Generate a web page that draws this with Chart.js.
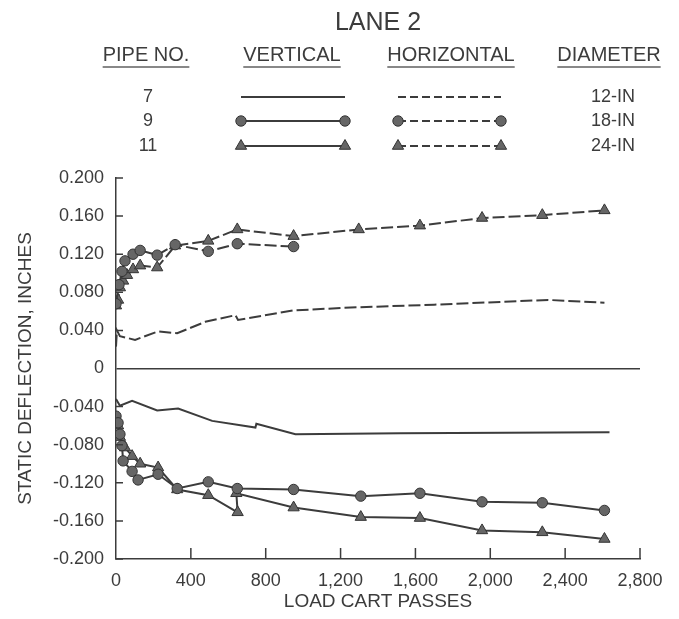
<!DOCTYPE html>
<html>
<head>
<meta charset="utf-8">
<script src="https://cdn.jsdelivr.net/npm/chart.js@4.4.1/dist/chart.umd.min.js"></script>
<style>
  html, body { margin: 0; padding: 0; background: #fff; }
  #wrap { position: relative; width: 679px; height: 619px; }
</style>
</head>
<body>
<div id="wrap"><canvas id="chart" width="679" height="619"></canvas></div>
<script>
// tick values
const yTicks = [-0.2, -0.16, -0.12, -0.08, -0.04, 0, 0.04, 0.08, 0.12, 0.16, 0.2];
const xTicks = [0, 400, 800, 1200, 1600, 2000, 2400, 2800];

// pipe 7 (12-in), no markers
const p7HorizPasses = [0, 5, 21, 102, 225, 327, 477, 638, 652, 949, 1254, 1700, 2310, 2610];
const p7HorizValues = [0.023, 0.040, 0.034, 0.030, 0.039, 0.037, 0.049, 0.056, 0.051, 0.061, 0.064, 0.067, 0.072, 0.069];
const p7VertPasses = [0, 21, 86, 220, 332, 514, 745, 750, 959, 1522, 2637];
const p7VertValues = [-0.032, -0.039, -0.034, -0.044, -0.042, -0.055, -0.062, -0.058, -0.069, -0.068, -0.067];

// pipe 9 (18-in), circles
const p9HorizPasses = [0, 16, 32, 48, 91, 129, 220, 316, 493, 648, 949];
const p9HorizValues = [0.068, 0.088, 0.102, 0.113, 0.120, 0.124, 0.119, 0.130, 0.123, 0.131, 0.128];
const p9VertPasses = [0, 11, 21, 32, 38, 86, 118, 225, 327, 493, 648, 949, 1308, 1624, 1956, 2278, 2610];
const p9VertValues = [-0.050, -0.057, -0.069, -0.081, -0.097, -0.108, -0.117, -0.111, -0.126, -0.119, -0.126, -0.127, -0.134, -0.131, -0.140, -0.141, -0.149];

// pipe 11 (24-in), triangles
const p11HorizPasses = [0, 11, 21, 38, 59, 91, 129, 220, 316, 493, 648, 949, 1297, 1624, 1956, 2278, 2610];
const p11HorizValues = [0.066, 0.072, 0.085, 0.092, 0.098, 0.104, 0.108, 0.106, 0.129, 0.134, 0.146, 0.139, 0.146, 0.150, 0.158, 0.161, 0.166];
const p11VertPasses = [0, 11, 21, 48, 86, 129, 225, 327, 493, 650, 643, 949, 1308, 1624, 1956, 2278, 2610];
const p11VertValues = [-0.052, -0.060, -0.072, -0.083, -0.092, -0.100, -0.104, -0.127, -0.133, -0.151, -0.131, -0.146, -0.156, -0.157, -0.170, -0.172, -0.179];

const pipeNos = ['7', '9', '11'];
const diameters = ['12-IN', '18-IN', '24-IN'];

const INK = '#3c3c3c';
const FONT = '"Liberation Sans", Arial, sans-serif';

function pts(xs, ys) {
  return xs.map((x, i) => ({ x: x, y: ys[i] }));
}

function series(label, xs, ys, marker, dashed) {
  return {
    label: label,
    data: pts(xs, ys),
    showLine: true,
    borderColor: INK,
    borderWidth: 2,
    borderDash: dashed ? [12, 4] : [],
    pointStyle: marker || 'circle',
    pointRadius: marker ? (marker === 'triangle' ? 6.5 : 5.2) : 0,
    pointBackgroundColor: '#666',
    pointBorderColor: '#333',
    pointBorderWidth: 1,
    tension: 0
  };
}

function drawMarker(ctx, type, x, y) {
  ctx.save();
  ctx.fillStyle = '#666';
  ctx.strokeStyle = '#333';
  ctx.lineWidth = 1;
  ctx.setLineDash([]);
  ctx.beginPath();
  if (type === 'circle') {
    ctx.arc(x, y, 5.2, 0, Math.PI * 2);
  } else {
    const r = 6.5;
    ctx.moveTo(x, y - r);
    ctx.lineTo(x + r * 0.866, y + r * 0.5);
    ctx.lineTo(x - r * 0.866, y + r * 0.5);
    ctx.closePath();
  }
  ctx.fill();
  ctx.stroke();
  ctx.restore();
}

// header block: title, column heads and line samples
const headerPlugin = {
  id: 'header',
  afterDraw(chart) {
    const ctx = chart.ctx;
    ctx.save();
    ctx.fillStyle = INK;
    ctx.textAlign = 'center';
    ctx.textBaseline = 'middle';
    ctx.font = '25px ' + FONT;
    ctx.fillText('LANE 2', 378, 23);

    const heads = [['PIPE NO.', 146], ['VERTICAL', 292], ['HORIZONTAL', 451], ['DIAMETER', 609]];
    ctx.font = '20px ' + FONT;
    heads.forEach(h => {
      ctx.fillText(h[0], h[1], 55);
      const w = ctx.measureText(h[0]).width;
      ctx.strokeStyle = '#888';
      ctx.lineWidth = 2;
      ctx.beginPath();
      ctx.moveTo(h[1] - w / 2, 67);
      ctx.lineTo(h[1] + w / 2, 67);
      ctx.stroke();
    });

    const rows = [97, 121, 146];
    const markers = [null, 'circle', 'triangle'];
    ctx.font = '18px ' + FONT;
    rows.forEach((y, i) => {
      ctx.fillStyle = INK;
      ctx.fillText(pipeNos[i], 148, y);
      ctx.fillText(diameters[i], 613, y);
      ctx.strokeStyle = INK;
      ctx.lineWidth = 2;
      ctx.setLineDash([]);
      ctx.beginPath();
      ctx.moveTo(241, y);
      ctx.lineTo(345, y);
      ctx.stroke();
      ctx.setLineDash([8, 4]);
      ctx.beginPath();
      ctx.moveTo(398, y);
      ctx.lineTo(501, y);
      ctx.stroke();
      ctx.setLineDash([]);
      if (markers[i]) {
        drawMarker(ctx, markers[i], 241, y);
        drawMarker(ctx, markers[i], 345, y);
        drawMarker(ctx, markers[i], 398, y);
        drawMarker(ctx, markers[i], 501, y);
      }
    });
    ctx.restore();
  }
};

// tick marks pointing into the plot
const innerTicks = {
  id: 'innerTicks',
  afterDatasetsDraw(chart) {
    const ctx = chart.ctx;
    const xs = chart.scales.x, ys = chart.scales.y;
    const a = chart.chartArea;
    ctx.save();
    ctx.strokeStyle = INK;
    ctx.lineWidth = 1.5;
    ctx.beginPath();
    ys.ticks.forEach(t => {
      if (Math.abs(t.value) < 1e-9) return;
      const py = ys.getPixelForValue(t.value);
      ctx.moveTo(a.left, py);
      ctx.lineTo(a.left + 7, py);
    });
    xs.ticks.forEach(t => {
      if (t.value === 0) return;
      const px = xs.getPixelForValue(t.value);
      ctx.moveTo(px, a.bottom);
      ctx.lineTo(px, a.bottom - 11);
    });
    ctx.stroke();
    ctx.restore();
  }
};

new Chart(document.getElementById('chart'), {
  type: 'scatter',
  data: {
    datasets: [
      series('7 vertical', p7VertPasses, p7VertValues, null, false),
      series('7 horizontal', p7HorizPasses, p7HorizValues, null, true),
      series('9 vertical', p9VertPasses, p9VertValues, 'circle', false),
      series('9 horizontal', p9HorizPasses, p9HorizValues, 'circle', true),
      series('11 vertical', p11VertPasses, p11VertValues, 'triangle', false),
      series('11 horizontal', p11HorizPasses, p11HorizValues, 'triangle', true)
    ]
  },
  options: {
    responsive: false,
    animation: false,
    layout: { padding: { left: 0, top: 178, right: 39, bottom: 0 } },
    plugins: {
      legend: { display: false },
      tooltip: { enabled: false }
    },
    scales: {
      x: {
        type: 'linear',
        min: 0,
        max: 2800,
        afterFit: s => { s.height = 60; },
        afterBuildTicks: s => { s.ticks = xTicks.map(v => ({ value: v })); },
        grid: { display: false },
        border: { display: true, color: INK, width: 1.5 },
        ticks: {
          padding: 3,
          color: INK,
          font: { family: FONT, size: 18 },
          maxRotation: 0,
          callback: v => v.toLocaleString('en-US')
        },
        title: {
          display: true,
          text: 'LOAD CART PASSES',
          color: INK,
          font: { family: FONT, size: 19 },
          padding: { top: 0, bottom: 6 }
        }
      },
      y: {
        min: -0.2,
        max: 0.2,
        afterFit: s => { s.width = 116; },
        afterBuildTicks: s => { s.ticks = yTicks.map(v => ({ value: v })); },
        grid: {
          drawTicks: false,
          lineWidth: 1.5,
          color: c => (c.tick && Math.abs(c.tick.value) < 1e-9) ? INK : 'rgba(0,0,0,0)'
        },
        border: { display: true, color: INK, width: 1.5 },
        ticks: {
          padding: 12,
          color: INK,
          font: { family: FONT, size: 18 },
          callback: v => Math.abs(v) < 1e-9 ? '0' : v.toFixed(3)
        },
        title: {
          display: true,
          text: 'STATIC DEFLECTION, INCHES',
          color: INK,
          font: { family: FONT, size: 19 },
          padding: { top: 14, bottom: 0 }
        }
      }
    }
  },
  plugins: [headerPlugin, innerTicks]
});
</script>
</body>
</html>
